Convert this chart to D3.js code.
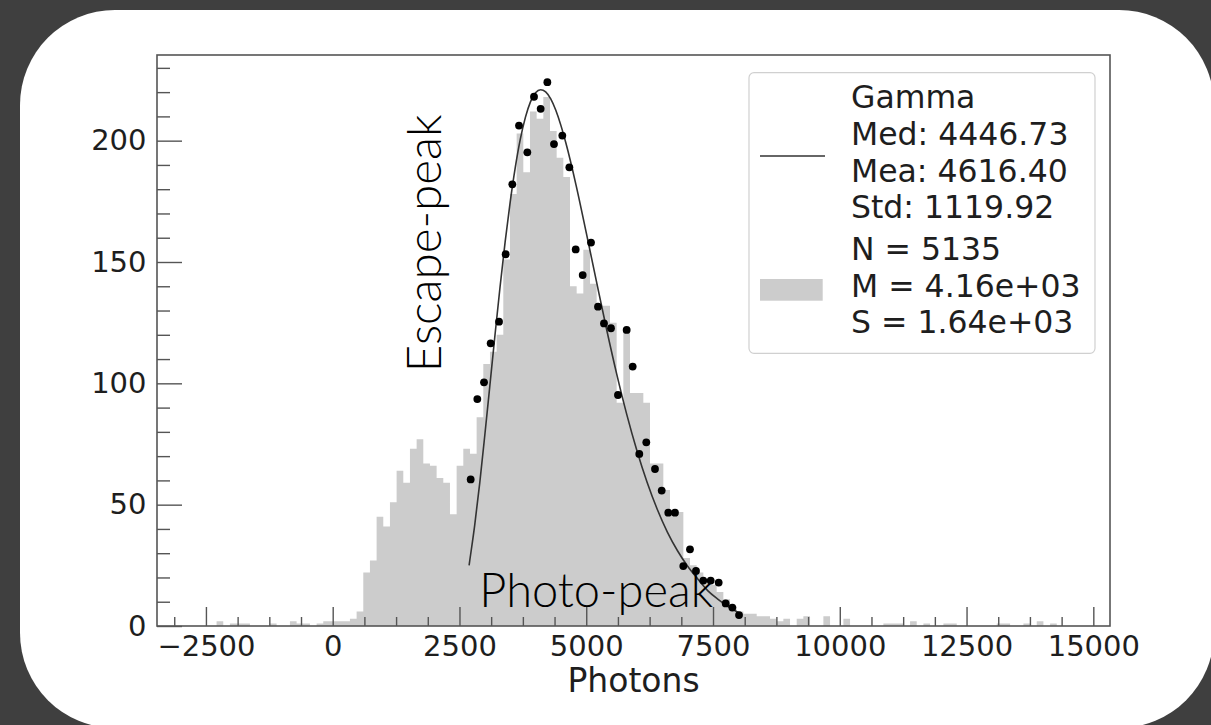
<!DOCTYPE html>
<html><head><meta charset="utf-8">
<script src="https://cdn.jsdelivr.net/npm/d3@7"></script>
<style>
html,body{margin:0;padding:0;background:#3f3f3f;}
svg{display:block;}
</style></head><body>
<svg id="chart" width="1211" height="725"></svg>
<script>
// ---------- data ----------
const binStart = -2684.5;      // left edge of first histogram bin (photons)
const binWidth = 131.5;        // photons per bin
const binCounts = [
  0,0,0,2,0,1,1,1,0,0,0,1,0,0,2,1,1,0,1,2,2,2,2,3,6,
  22,27,45,41,51,64,59,73,77,67,66,61,59,46,66,73,71,86,
  108,113,120,151,178,203,187,212,209,218,204,193,185,140,137,155,141,132,132,125,92,122,96,96,92,67,67,56,47,47,
  28,25,22,19,17,14,11,8,6,
  5,5,4,4,3,2,3,0,3,4,
  0,0,4,0,0,3,0,0,0,0,
  0,1,1,1,0,2,0,1,0,0,
  1,1,0,0,0,0,0,0,1,1,
  0,0,1,0,2,0,1,0
];
const fitX = [2690,2700,2800,2900,3000,3100,3200,3300,3400,3500,3600,3700,3800,3900,4000,4100,4200,4300,4400,4500,4600,4800,5000,5200,5400,5600,5800,6000,6200,6400,6600,6800,7000,7200,7400,7600,7800,8050];
const fitY = [25,26.5,41.5,59,78.7,99.2,119.8,139.7,158.2,174.7,188.9,200.6,209.6,216,219.7,221,220.1,217.2,212.5,206.3,198.9,181.6,162.1,142.1,122.4,103.9,87.1,72.2,59.2,48.1,38.7,31,24.6,19.4,14.5,11,8,5];
const pointX = [2721,2852,2984,3115,3280,3411,3542,3674,3838,3970,4101,4233,4364,4528,4667,4792,4930,5094,5232,5350,5488,5626,5797,5916,6046,6184,6356,6488,6618,6750,6914,7046,7164,7308,7454,7612,7750,7881,8013];
const pointY = [60.4,93.5,100.4,116.5,125.4,153.2,182.0,206.2,195.2,218.1,213.1,224.1,198.6,202.1,189.0,155.2,144.6,158.0,131.6,124.7,122.7,95.2,122.0,106.9,70.9,75.7,64.7,55.8,46.7,46.7,24.7,31.6,22.7,18.7,18.7,17.9,9.3,7.6,4.5];
const xTicks = [-2500,0,2500,5000,7500,10000,12500,15000];
const yTicks = [0,50,100,150,200];
const xDomain = [-3465, 15329];
const yDomain = [0, 235.3];
const xLabel = "Photons";
const legendLineLabel = ["Gamma","Med: 4446.73","Mea: 4616.40","Std: 1119.92"];
const legendHistLabel = ["N = 5135","M = 4.16e+03","S = 1.64e+03"];
const escapeLabel = "Escape-peak";
const photoLabel = "Photo-peak";

// ---------- layout ----------
const svg = d3.select("#chart");
const L = 157, R = 1110, T = 55, B = 626;
const FS = 29, LFS = 31.5, XLFS = 33;
const axisColor = "#555";
const textColor = "#1e1e1e";
const font = "'DejaVu Sans', sans-serif";

svg.append("rect").attr("x",20).attr("y",10).attr("width",1194).attr("height",718)
  .attr("rx",95).attr("ry",95).attr("fill","#fff");

const x = d3.scaleLinear().domain(xDomain).range([L,R]);
const y = d3.scaleLinear().domain(yDomain).range([B,T]);

// histogram as one stepped area (no seams between bars)
const steps = binCounts.map((c,i)=>[binStart + i*binWidth, c]);
steps.push([binStart + binCounts.length*binWidth, 0]);
const plot = svg.append("g");
plot.append("path").datum(steps)
  .attr("d", d3.area().x(d=>x(d[0])).y0(y(0)).y1(d=>y(d[1])).curve(d3.curveStepAfter))
  .attr("fill","#cccccc");

const fit = fitX.map((v,i)=>[v, fitY[i]]);
plot.append("path").datum(fit)
  .attr("d", d3.line().x(d=>x(d[0])).y(d=>y(d[1])).curve(d3.curveMonotoneX))
  .attr("fill","none").attr("stroke","#333").attr("stroke-width",1.6);

const pts = pointX.map((v,i)=>[v, pointY[i]]);
plot.selectAll("circle.pt").data(pts).join("circle")
  .attr("class","pt").attr("cx",d=>x(d[0])).attr("cy",d=>y(d[1])).attr("r",3.9).attr("fill","#000");

// axes
const minorX = d3.range(-3125, xDomain[1], 625).filter(v=>v>=xDomain[0] && !xTicks.includes(v));
const minorY = d3.range(0, yDomain[1], 10).filter(v=>!yTicks.includes(v));

function styleAxis(g){
  g.select(".domain").remove();
  g.selectAll(".tick line").attr("stroke",axisColor).attr("stroke-width",1.4);
  g.selectAll(".tick text").attr("fill",textColor).style("font-family",font).style("font-size",FS+"px");
}
svg.append("g").attr("transform",`translate(0,${B})`)
  .call(d3.axisBottom(x).tickValues(minorX).tickSize(-9).tickFormat(""))
  .call(styleAxis);
svg.append("g").attr("transform",`translate(0,${B})`)
  .call(d3.axisBottom(x).tickValues(xTicks).tickSize(-19).tickPadding(9.5)
    .tickFormat(d=>d<0?"\u2212"+Math.abs(d):String(d)))
  .call(styleAxis);
svg.append("g").attr("transform",`translate(${L},0)`)
  .call(d3.axisLeft(y).tickValues(minorY).tickSize(-13).tickFormat(""))
  .call(styleAxis);
svg.append("g").attr("transform",`translate(${L},0)`)
  .call(d3.axisLeft(y).tickValues(yTicks).tickSize(-25).tickPadding(10.5).tickFormat(d3.format("d")))
  .call(styleAxis);

svg.append("rect").attr("x",L).attr("y",T).attr("width",R-L).attr("height",B-T)
  .attr("fill","none").attr("stroke",axisColor).attr("stroke-width",1.6);

svg.append("text").attr("x",(L+R)/2).attr("y",692).attr("text-anchor","middle")
  .style("font-family",font).style("font-size",XLFS+"px").attr("fill",textColor).text(xLabel);

// annotations
const annFont = "Lato, 'Open Sans', sans-serif";
svg.append("text")
  .attr("transform",`translate(${x(2136)},${y(104.6)}) rotate(-90)`)
  .style("font-family",annFont).style("font-weight",300).style("font-size","47.5px")
  .attr("fill","#000").text(escapeLabel);
svg.append("text")
  .attr("x",x(2890)).attr("y",y(8))
  .style("font-family",annFont).style("font-weight",300).style("font-size","47px")
  .attr("fill","#000").text(photoLabel);

// legend
const lg = svg.append("g");
lg.append("rect").attr("x",749).attr("y",72.7).attr("width",346).attr("height",280.6)
  .attr("rx",5).attr("fill","#fff").attr("fill-opacity",0.9).attr("stroke","#d0d0d0").attr("stroke-width",1.2);
lg.append("line").attr("x1",760).attr("x2",825).attr("y1",156).attr("y2",156)
  .attr("stroke","#333").attr("stroke-width",1.6);
lg.append("rect").attr("x",760).attr("y",279).attr("width",62.7).attr("height",21.7).attr("fill","#cccccc");
const lineBase = [108.3,145,181.7,218.3];
const histBase = [260,296.7,333.3];
legendLineLabel.forEach((t,i)=>lg.append("text").attr("x",851).attr("y",lineBase[i])
  .style("font-family",font).style("font-size",LFS+"px").attr("fill",textColor).text(t));
legendHistLabel.forEach((t,i)=>lg.append("text").attr("x",851).attr("y",histBase[i])
  .style("font-family",font).style("font-size",LFS+"px").attr("fill",textColor).text(t));
</script>
</body></html>
